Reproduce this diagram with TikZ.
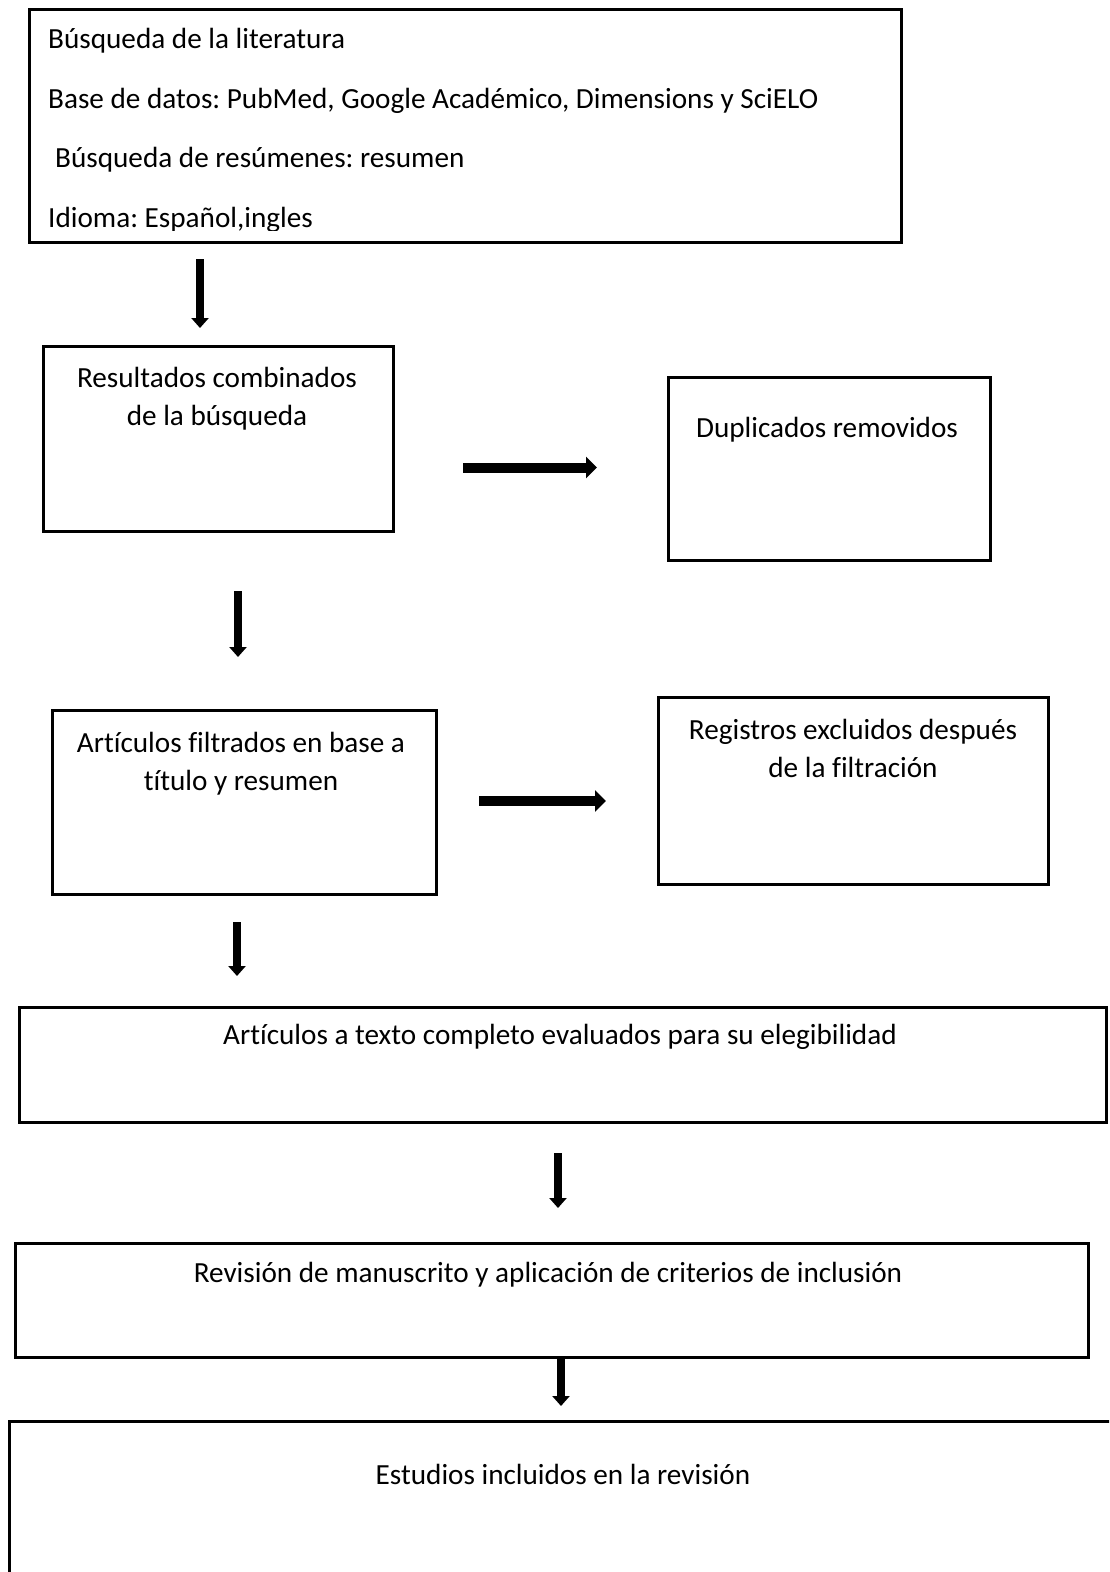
\documentclass[tikz,border=0pt]{standalone}
\usepackage{fontspec}
\setmainfont{Carlito}[Ligatures={NoCommon}]
\usetikzlibrary{arrows.meta}
\begin{document}
\frenchspacing
\begin{tikzpicture}[x=1pt,y=-1pt,
  box/.style={draw, line width=2.6pt, inner sep=0pt, rectangle, anchor=north west},
  txt/.style={font=\fontsize{29.2}{34}\selectfont, inner sep=0pt},
  varr/.style={line width=8.5pt, -{Triangle[width=17pt,length=10pt]}},
  harr/.style={line width=10pt, -{Triangle[width=21pt,length=11pt]}}]
\clip (0,0) rectangle (1109,1572);
\fill[white] (0,0) rectangle (1109,1572);

% boxes
\node[box, minimum width=872pt, minimum height=233pt] (b1) at (28,8) {};
\node[box, minimum width=350pt, minimum height=185pt] (b2) at (42,345) {};
\node[box, minimum width=322pt, minimum height=183pt] (b3) at (667,376) {};
\node[box, minimum width=384pt, minimum height=184pt] (b4) at (51,709) {};
\node[box, minimum width=390pt, minimum height=187pt] (b5) at (657,696) {};
\node[box, minimum width=1087pt, minimum height=115pt] (b6) at (18,1006) {};
\node[box, minimum width=1073pt, minimum height=114pt] (b7) at (14,1242) {};
\node[box, minimum width=1160pt, minimum height=220pt] (b8) at (8,1420) {};

% texts of top box
\node[txt, anchor=base west] (t1a) at (48,48) {Búsqueda de la literatura};
\node[txt, anchor=base west] (t1b) at (48,108) {Base de datos: PubMed, Google Académico, Dimensions y SciELO};
\node[txt, anchor=base west] (t1c) at (55,167) {Búsqueda de resúmenes: resumen};
\begin{scope}
\clip (28,8) rectangle (900,230);
\node[txt, anchor=base west] (t1d) at (48,227) {Idioma: Español,ingles};
\end{scope}

% other texts
\node[txt, anchor=base] (t2a) at (217,387) {Resultados combinados};
\node[txt, anchor=base] (t2b) at (217,425) {de la búsqueda};
\node[txt, anchor=base] (t3) at (827,437) {Duplicados removidos};
\node[txt, anchor=base] (t4a) at (241,752) {Artículos filtrados en base a};
\node[txt, anchor=base] (t4b) at (241,790) {título y resumen};
\node[txt, anchor=base] (t5a) at (853,739) {Registros excluidos después};
\node[txt, anchor=base] (t5b) at (853,777) {de la filtración};
\node[txt, anchor=base] (t6) at (560,1044) {Artículos a texto completo evaluados para su elegibilidad};
\node[txt, anchor=base] (t7) at (548,1282) {Revisión de manuscrito y aplicación de criterios de inclusión};
\node[txt, anchor=base] (t8) at (563,1484) {Estudios incluidos en la revisión};

% arrows
\coordinate (a1s) at (200,259); \coordinate (a1e) at (200,328);
\coordinate (a2s) at (463,467.5); \coordinate (a2e) at (597,467.5);
\coordinate (a3s) at (238,591); \coordinate (a3e) at (238,657);
\coordinate (a4s) at (479,801); \coordinate (a4e) at (606,801);
\coordinate (a5s) at (237,922); \coordinate (a5e) at (237,976);
\coordinate (a6s) at (558,1153); \coordinate (a6e) at (558,1208);
\coordinate (a7s) at (561,1357); \coordinate (a7e) at (561,1406);
\draw[varr] (a1s) -- (a1e);
\draw[harr] (a2s) -- (a2e);
\draw[varr] (a3s) -- (a3e);
\draw[harr] (a4s) -- (a4e);
\draw[varr] (a5s) -- (a5e);
\draw[varr] (a6s) -- (a6e);
\draw[varr] (a7s) -- (a7e);
\end{tikzpicture}
\end{document}
